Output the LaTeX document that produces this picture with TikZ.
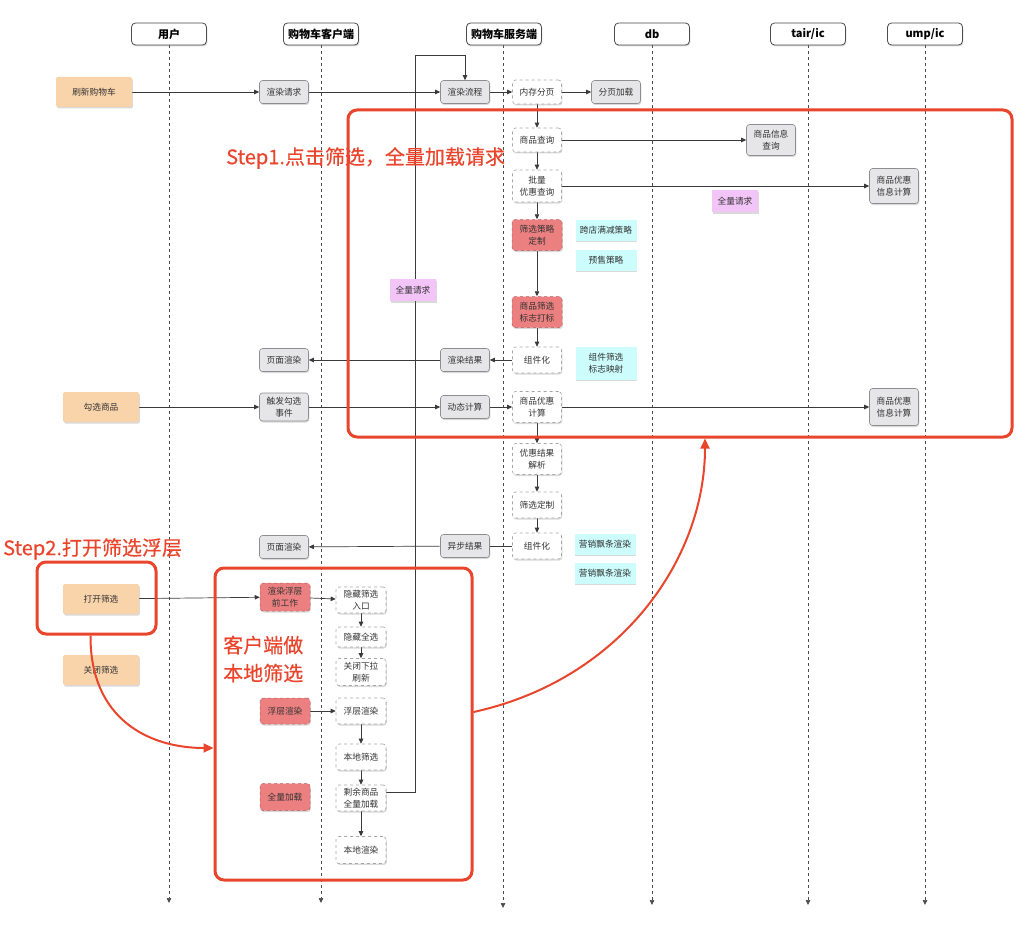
\documentclass[tikz,border=0pt]{standalone}
\usepackage{fontspec}
\setmainfont{Noto Sans CJK SC}
\newfontfamily\stepfont[FakeBold=0.5]{Noto Sans CJK SC}
\usetikzlibrary{arrows.meta,shadows}
\pgfdeclarelayer{bg}
\pgfsetlayers{bg,main}
\definecolor{redline}{HTML}{E8452C}
\definecolor{peach}{HTML}{F9D3AA}
\definecolor{grayfill}{HTML}{E6E6E8}
\definecolor{grayedge}{HTML}{8E8E8E}
\definecolor{redfill}{HTML}{EC8080}
\definecolor{cyanfill}{HTML}{CCFCFC}
\definecolor{pinkfill}{HTML}{F3C4F7}
\definecolor{lineclr}{HTML}{3A3A3A}
\tikzset{
  sh/.style={drop shadow={opacity=0.3,shadow xshift=0.8pt,shadow yshift=-1.5pt}},
  base/.style={rounded corners=3pt, align=center, inner sep=1pt, text=black!80,
    font=\fontsize{8.7}{12.5}\selectfont, minimum width=49, minimum height=23},
  hdr/.style={draw=black!70, fill=white, rounded corners=4pt, minimum width=75,
    minimum height=22, font=\fontsize{11}{13}\selectfont\bfseries, line width=0.8pt, sh},
  orangebox/.style={base, fill=peach, minimum width=76, minimum height=30, rounded corners=1.5pt, sh},
  graybox/.style={base, fill=grayfill, draw=grayedge, line width=0.6pt, sh},
  dbox/.style={base, fill=white, draw=black!35, dashed, line width=0.6pt, sh},
  redbox/.style={base, fill=redfill, draw=redfill!75!black, dashed, line width=0.5pt, minimum width=50, sh},
  cyanbox/.style={base, fill=cyanfill, minimum width=61, minimum height=21, rounded corners=0pt, sh},
  pinkbox/.style={base, fill=pinkfill, minimum width=46, minimum height=22, rounded corners=0pt, sh},
  frame/.style={draw=redline, line width=3pt, rounded corners=9pt},
  steptext/.style={text=redline, font=\stepfont\fontsize{20}{28}\selectfont, inner sep=0pt},
  lifeline/.style={draw=black!70, dashed, line width=0.7pt, -{Triangle[length=5pt,width=4.5pt]}},
  conn/.style={draw=lineclr, line width=0.7pt, -{Triangle[length=5pt,width=4.5pt]}},
  plain/.style={draw=lineclr, line width=0.7pt},
  redarrow/.style={draw=redline, line width=2pt, -{Triangle[length=10pt,width=9pt]}},
}
\begin{document}
\begin{tikzpicture}[x=1pt,y=-1pt]
\useasboundingbox (0,0) rectangle (1024,928);
% headers
\node[hdr] (hU) at (169,34) {用户};
\node[hdr] (hC) at (321,34) {购物车客户端};
\node[hdr] (hS) at (504,34) {购物车服务端};
\node[hdr] (hD) at (652,34) {db};
\node[hdr] (hT) at (808,34) {tair/ic};
\node[hdr] (hP) at (925,34) {ump/ic};
\coordinate (eU) at (169,903);
\coordinate (eC) at (321,903);
\coordinate (eS) at (503,908);
\coordinate (eD) at (652,905);
\coordinate (eT) at (808,905);
\coordinate (eP) at (925,905);

% user column
\node[orangebox] (o1) at (94,92) {刷新购物车};
\node[orangebox] (o2) at (101,407) {勾选商品};
\node[orangebox] (o3) at (101,599) {打开筛选};
\node[orangebox] (o4) at (101,670) {关闭筛选};

% client column
\node[graybox] (rq) at (284,92) {渲染请求};
\node[graybox] (pr1) at (284,360) {页面渲染};
\node[graybox, minimum height=28] (tg) at (284,407) {触发勾选\\事件};
\node[graybox] (pr2) at (284,547) {页面渲染};
\node[graybox] (fl) at (465,92) {渲染流程};
\node[graybox] (rr) at (465,360) {渲染结果};
\node[graybox] (dy) at (465,407) {动态计算};
\node[graybox] (ay) at (465,546) {异步结果};

% server column
\node[dbox, minimum height=24] (mem) at (537,92) {内存分页};
\node[dbox, minimum height=24] (pq) at (537,140) {商品查询};
\node[dbox, minimum height=32] (bq) at (537,186) {批量\\优惠查询};
\node[redbox, minimum height=31] (st) at (537,235) {筛选策略\\定制};
\node[redbox, minimum height=31] (mk) at (537,312) {商品筛选\\标志打标};
\node[dbox, minimum height=26] (cp1) at (537,360) {组件化};
\node[dbox, minimum height=31] (dc) at (537,407) {商品优惠\\计算};
\node[dbox, minimum height=31] (pr) at (537,459) {优惠结果\\解析};
\node[dbox, minimum height=26] (fc) at (537,505) {筛选定制};
\node[dbox, minimum height=26] (cp2) at (537,546) {组件化};

% other boxes
\node[graybox] (pl) at (616,92) {分页加载};
\node[graybox, minimum height=31] (gi) at (771,140) {商品信息\\查询};
\node[graybox, minimum height=35] (uc1) at (894,186) {商品优惠\\信息计算};
\node[graybox, minimum height=37] (uc2) at (894,407) {商品优惠\\信息计算};
\node[cyanbox] (cy1) at (606,230) {跨店满减策略};
\node[cyanbox] (cy2) at (606,260) {预售策略};
\node[cyanbox, minimum height=33] (cy3) at (606,363) {组件筛选\\标志映射};
\node[cyanbox] (cy4) at (605,544) {营销飘条渲染};
\node[cyanbox] (cy5) at (605,573) {营销飘条渲染};
\node[pinkbox] (pk1) at (735,201) {全量请求};
\node[pinkbox] (pk2) at (413,290) {全量请求};

% client local filter box
\node[redbox, minimum height=28] (r1) at (285,597) {渲染浮层\\前工作};
\node[dbox, minimum width=50, minimum height=26] (h1) at (361,600) {隐藏筛选\\入口};
\node[dbox, minimum width=50, minimum height=20] (h2) at (361,637) {隐藏全选};
\node[dbox, minimum width=50, minimum height=27] (h3) at (361,672) {关闭下拉\\刷新};
\node[redbox, minimum height=26] (r2) at (285,711) {浮层渲染};
\node[dbox, minimum width=50, minimum height=26] (h4) at (361,711) {浮层渲染};
\node[dbox, minimum width=50, minimum height=26] (h5) at (361,757) {本地筛选};
\node[dbox, minimum width=50, minimum height=26] (h6) at (361,798) {剩余商品\\全量加载};
\node[dbox, minimum width=50, minimum height=27] (h7) at (361,850) {本地渲染};
\node[redbox, minimum height=27] (r3) at (285,797) {全量加载};

% frames
\node[frame, minimum width=664, minimum height=327] (f1) at (680,273.5) {};
\node[frame, minimum width=119, minimum height=72] (f2) at (96.5,598) {};
\node[frame, minimum width=257, minimum height=312] (f3) at (343.5,724) {};

% texts
\node[steptext, anchor=west] (s1) at (226,158) {Step1.点击筛选，全量加载请求};
\node[steptext, anchor=west] (s2) at (3,549) {Step2.打开筛选浮层};
\node[steptext, anchor=west, align=left] (s3) at (223,659) {客户端做\\本地筛选};

\coordinate (lp1) at (415,55);

\begin{pgfonlayer}{bg}
\draw[lifeline] (hU.south) -- (eU);
\draw[lifeline] (hC.south) -- (eC);
\draw[lifeline] ([xshift=-1pt]hS.south) -- (eS);
\draw[lifeline] (hD.south) -- (eD);
\draw[lifeline] (hT.south) -- (eT);
\draw[lifeline] (hP.south) -- (eP);

\draw[conn] (o1) -- (rq);
\draw[conn] (rq) -- (fl);
\draw[conn] (fl) -- (mem);
\draw[conn] (mem) -- (pl);
\draw[conn] (mem) -- (pq);
\draw[conn] (pq) -- (bq);
\draw[conn] (bq) -- (st);
\draw[conn] (st) -- (mk);
\draw[conn] (mk) -- (cp1);
\draw[conn] (cp1) -- (rr);
\draw[conn] (rr) -- (pr1);
\draw[conn] (pq) -- (gi);
\draw[conn] (bq) -- (uc1);
\draw[conn] (o2) -- (tg);
\draw[conn] (tg) -- (dy);
\draw[conn] (dy) -- (dc);
\draw[conn] (dc) -- (uc2);
\draw[conn] (dc) -- (pr);
\draw[conn] (pr) -- (fc);
\draw[conn] (fc) -- (cp2);
\draw[plain] (cp2) -- (ay);
\draw[conn] (ay) -- (pr2);
\draw[conn] (o3) -- (r1);
\draw[conn] (r1) -- (h1);
\draw[conn] (h1) -- (h2);
\draw[conn] (h2) -- (h3);
\draw[conn] (r2) -- (h4);
\draw[conn] (h4) -- (h5);
\draw[conn] (h5) -- (h6);
\draw[conn] (h6) -- (h7);
\draw[conn] ([yshift=6pt]h6.east) -| (lp1) -| (fl.north);
\end{pgfonlayer}

% red curved arrows
\draw[redarrow] ([xshift=-6pt]f2.south) .. controls (90,720) and (150,748) .. ([yshift=-24pt]f3.west);
\draw[redarrow] ([yshift=12pt]f3.east) .. controls (620,680) and (705,560) .. ([xshift=25pt]f1.south);
\end{tikzpicture}
\end{document}
